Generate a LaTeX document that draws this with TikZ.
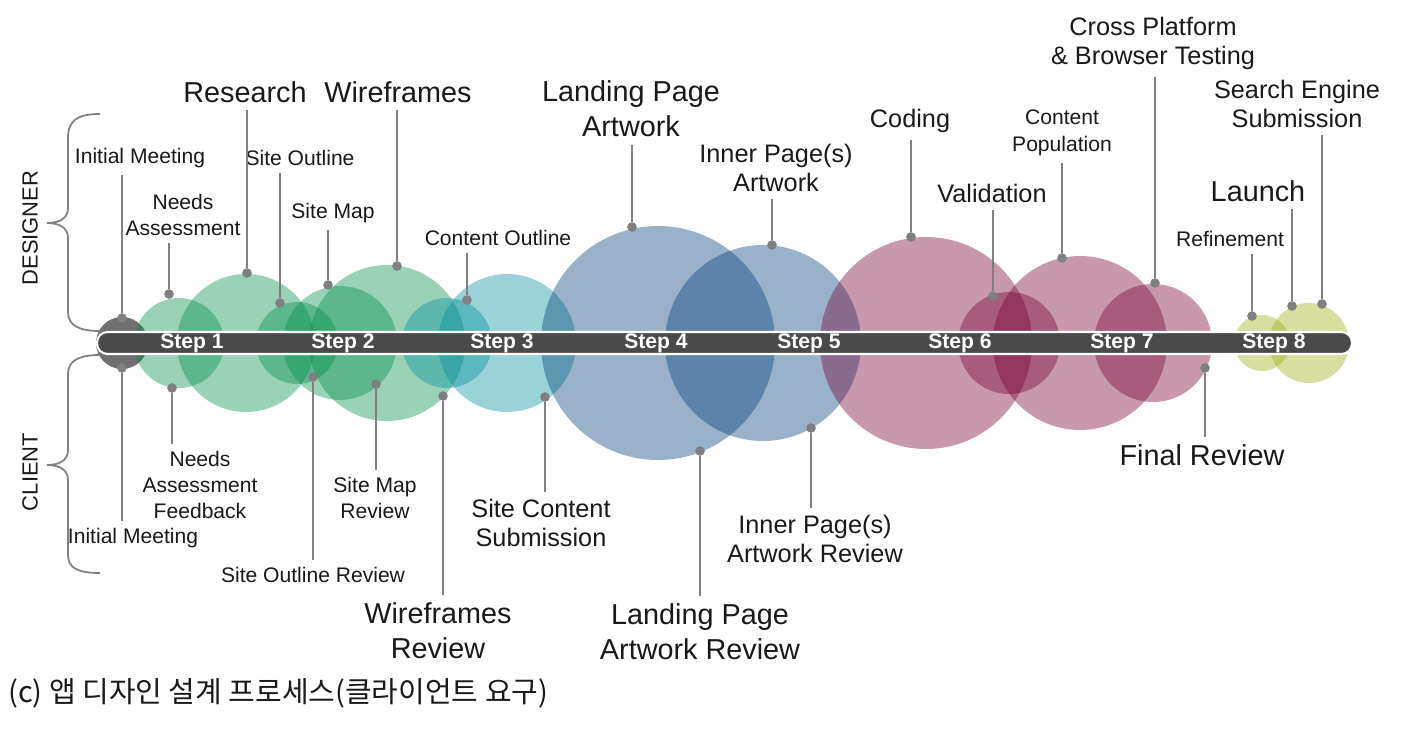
\documentclass[tikz,border=0pt]{standalone}
\usepackage{fontspec}
\setmainfont{Liberation Sans}
\newfontfamily\krfont{Noto Sans CJK KR}

\definecolor{grnc}{RGB}{0,143,75}
\definecolor{tealc}{RGB}{0,143,155}
\definecolor{bluec}{RGB}{0,63,123}
\definecolor{pinkc}{RGB}{118,0,48}
\definecolor{olivc}{RGB}{155,173,18}
\definecolor{barc}{RGB}{74,74,74}
\definecolor{startc}{RGB}{112,112,112}
\definecolor{leadc}{RGB}{128,128,128}
\definecolor{txtc}{RGB}{25,25,25}

\tikzset{
  smalllbl/.style={font=\fontsize{12}{15}\selectfont, align=center, text=txtc, inner sep=4pt},
  midlbl/.style={font=\fontsize{14.4}{16.5}\selectfont, align=center, text=txtc, inner sep=4pt},
  biglbl/.style={font=\fontsize{16.4}{20}\selectfont, align=center, text=txtc, inner sep=4pt},
  sidelbl/.style={font=\fontsize{12.5}{15}\selectfont, text=txtc, rotate=90},
  steplbl/.style={font=\bfseries\fontsize{12}{14}\selectfont, text=white},
  dotmark/.style={circle, fill=leadc, inner sep=0pt, minimum size=5.5pt},
  leadline/.style={leadc, line width=1.1pt},
  bub/.style={fill opacity=0.4},
  brc/.style={leadc, line width=1pt},
}

\begin{document}
\begin{tikzpicture}[x={(0.02cm,0)}, y={(0,-0.02cm)}]
  \newcommand\midy{343}
  \useasboundingbox (0,0) rectangle (1410,744);

  % bubbles
  \fill[startc] (122,\midy) circle (26);
  \fill[grnc, bub] (179,\midy) circle (45);
  \fill[grnc, bub] (246,\midy) circle (69);
  \fill[grnc, bub] (297,\midy) circle (41);
  \fill[grnc, bub] (340,\midy) circle (57);
  \fill[grnc, bub] (387,\midy) circle (78);
  \fill[tealc, bub] (447,\midy) circle (45);
  \fill[tealc, bub] (507,\midy) circle (69);
  \fill[bluec, bub] (658,\midy) circle (117);
  \fill[bluec, bub] (763,\midy) circle (98);
  \fill[pinkc, bub] (926,\midy) circle (106);
  \fill[pinkc, bub] (1009,\midy) circle (51);
  \fill[pinkc, bub] (1080,\midy) circle (87);
  \fill[pinkc, bub] (1153,\midy) circle (59);
  \fill[olivc, bub] (1262,\midy) circle (28);
  \fill[olivc, bub] (1309,\midy) circle (40);

  % time bar
  \draw[white, fill=barc, line width=1.2pt, rounded corners=6pt] (97,332) rectangle (1352,354);
  \node[steplbl] (s1) at (192,\midy) {Step 1};
  \node[steplbl] (s2) at (343,\midy) {Step 2};
  \node[steplbl] (s3) at (502,\midy) {Step 3};
  \node[steplbl] (s4) at (656,\midy) {Step 4};
  \node[steplbl] (s5) at (809,\midy) {Step 5};
  \node[steplbl] (s6) at (960,\midy) {Step 6};
  \node[steplbl] (s7) at (1122,\midy) {Step 7};
  \node[steplbl] (s8) at (1274,\midy) {Step 8};

  % braces
  \draw[brc] (100,114) .. controls (78,114) and (68,120) .. (68,138) -- (68,208)
    .. controls (68,218) and (60,223) .. (47,223) .. controls (60,223) and (68,228) .. (68,238)
    -- (68,312) .. controls (68,326) and (80,331) .. (100,331);
  \draw[brc] (100,355) .. controls (80,355) and (68,360) .. (68,374) -- (68,450)
    .. controls (68,460) and (60,465) .. (47,465) .. controls (60,465) and (68,470) .. (68,480)
    -- (68,555) .. controls (68,568) and (78,573) .. (100,573);
  \node[sidelbl] (dsg) at (30,228) {DESIGNER};
  \node[sidelbl] (cli) at (30,472) {CLIENT};

  % designer side
  \node[smalllbl] (im) at (140,158) {Initial Meeting};
  \node[smalllbl] (na) at (183,215) {Needs\\Assessment};
  \node[biglbl] (rs) at (245,92) {Research};
  \node[smalllbl] (so) at (300,158) {Site Outline};
  \node[smalllbl] (sm) at (333,213) {Site Map};
  \node[biglbl] (wf) at (398,92) {Wireframes};
  \node[smalllbl] (co) at (498,238) {Content Outline};
  \node[biglbl] (lp) at (631,109) {Landing Page\\Artwork};
  \node[midlbl] (ip) at (776,168) {Inner Page(s)\\Artwork};
  \node[midlbl] (cd) at (910,121) {Coding};
  \node[midlbl] (va) at (992,193) {Validation};
  \node[smalllbl] (cp) at (1062,133) {Content\\Population};
  \node[midlbl] (cb) at (1153,43) {Cross Platform\\\& Browser Testing};
  \node[midlbl] (se) at (1297,104) {Search Engine\\Submission};
  \node[biglbl] (la) at (1258,191) {Launch};
  \node[smalllbl] (rf) at (1230,239) {Refinement};

  \node[dotmark] (dim) at (122,318) {};
  \node[dotmark] (dna) at (169,294) {};
  \node[dotmark] (drs) at (247,273) {};
  \node[dotmark] (dso) at (280,303) {};
  \node[dotmark] (dsm) at (328,285) {};
  \node[dotmark] (dwf) at (397,266) {};
  \node[dotmark] (dco) at (467,300) {};
  \node[dotmark] (dlp) at (632,227) {};
  \node[dotmark] (dip) at (772,245) {};
  \node[dotmark] (dcd) at (911,237) {};
  \node[dotmark] (dva) at (993,296) {};
  \node[dotmark] (dcp) at (1062,258) {};
  \node[dotmark] (dcb) at (1155,283) {};
  \node[dotmark] (dse) at (1322,304) {};
  \node[dotmark] (dla) at (1292,306) {};
  \node[dotmark] (drf) at (1252,316) {};

  \draw[leadline] (dim) -- (dim |- im.south);
  \draw[leadline] (dna) -- (dna |- na.south);
  \draw[leadline] (drs) -- (drs |- rs.south);
  \draw[leadline] (dso) -- (dso |- so.south);
  \draw[leadline] (dsm) -- (dsm |- sm.south);
  \draw[leadline] (dwf) -- (dwf |- wf.south);
  \draw[leadline] (dco) -- (dco |- co.south);
  \draw[leadline] (dlp) -- (dlp |- lp.south);
  \draw[leadline] (dip) -- (dip |- ip.south);
  \draw[leadline] (dcd) -- (dcd |- cd.south);
  \draw[leadline] (dva) -- (dva |- va.south);
  \draw[leadline] (dcp) -- (dcp |- cp.south);
  \draw[leadline] (dcb) -- (dcb |- cb.south);
  \draw[leadline] (dse) -- (dse |- se.south);
  \draw[leadline] (dla) -- (dla |- la.south);
  \draw[leadline] (drf) -- (drf |- rf.south);

  % client side
  \node[smalllbl] (imr) at (133,538) {Initial Meeting};
  \node[smalllbl] (naf) at (200,485) {Needs\\Assessment\\Feedback};
  \node[smalllbl] (smr) at (375,498) {Site Map\\Review};
  \node[smalllbl] (sor) at (313,575) {Site Outline Review};
  \node[biglbl] (wfr) at (438,631) {Wireframes\\Review};
  \node[midlbl] (scs) at (541,523) {Site Content\\Submission};
  \node[biglbl] (lpr) at (700,632) {Landing Page\\Artwork Review};
  \node[midlbl] (ipr) at (815,539) {Inner Page(s)\\Artwork Review};
  \node[biglbl] (fr) at (1202,455) {Final Review};

  \node[dotmark] (dimr) at (122,368) {};
  \node[dotmark] (dnaf) at (172,388) {};
  \node[dotmark] (dsmr) at (376,384) {};
  \node[dotmark] (dsor) at (313,377) {};
  \node[dotmark] (dwfr) at (443,396) {};
  \node[dotmark] (dscs) at (545,397) {};
  \node[dotmark] (dlpr) at (700,451) {};
  \node[dotmark] (dipr) at (811,428) {};
  \node[dotmark] (dfr) at (1205,368) {};

  \draw[leadline] (dimr) -- (dimr |- imr.north);
  \draw[leadline] (dnaf) -- (dnaf |- naf.north);
  \draw[leadline] (dsmr) -- (dsmr |- smr.north);
  \draw[leadline] (dsor) -- (dsor |- sor.north);
  \draw[leadline] (dwfr) -- (dwfr |- wfr.north);
  \draw[leadline] (dscs) -- (dscs |- scs.north);
  \draw[leadline] (dlpr) -- (dlpr |- lpr.north);
  \draw[leadline] (dipr) -- (dipr |- ipr.north);
  \draw[leadline] (dfr) -- (dfr |- fr.north);

  \node[anchor=west, inner sep=0pt, font=\krfont\fontsize{16.5}{20}\selectfont, text=txtc] (cap) at (8,693) {(c) 앱 디자인 설계 프로세스(클라이언트 요구)};
\end{tikzpicture}
\end{document}
